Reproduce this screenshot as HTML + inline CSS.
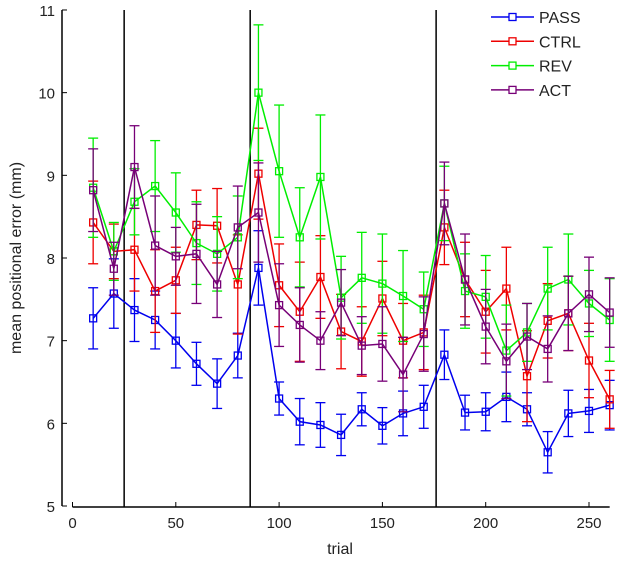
<!DOCTYPE html>
<html><head><meta charset="utf-8"><style>
body{margin:0;background:#fff;}
svg{display:block;font-family:"Liberation Sans",sans-serif;}
</style></head><body>
<svg id="chart" width="617" height="562"></svg>
<script>
const trials=[10,20,30,40,50,60,70,80,90,100,110,120,130,140,150,160,170,180,190,200,210,220,230,240,250,260];
const passMean=[7.27,7.57,7.37,7.25,7.0,6.72,6.48,6.82,7.88,6.3,6.02,5.98,5.86,6.17,5.97,6.12,6.2,6.83,6.13,6.14,6.32,6.17,5.65,6.12,6.15,6.22];
const passErr=[0.37,0.42,0.38,0.35,0.33,0.26,0.3,0.27,0.45,0.2,0.28,0.27,0.25,0.2,0.22,0.27,0.26,0.3,0.21,0.23,0.3,0.2,0.25,0.28,0.26,0.3];
const ctrlMean=[8.43,8.08,8.1,7.6,7.73,8.4,8.39,7.68,9.02,7.67,7.35,7.77,7.11,6.99,7.51,7.0,7.1,8.37,7.74,7.35,7.63,6.57,7.24,7.33,6.76,6.29];
const ctrlErr=[0.5,0.33,0.5,0.5,0.4,0.42,0.45,0.6,0.55,0.5,0.6,0.5,0.45,0.42,0.45,0.45,0.45,0.45,0.45,0.5,0.5,0.55,0.45,0.45,0.45,0.35];
const revMean=[8.85,8.08,8.68,8.87,8.55,8.18,8.05,8.25,10.0,9.05,8.25,8.98,7.52,7.76,7.69,7.54,7.38,8.66,7.6,7.53,6.88,7.1,7.63,7.74,7.45,7.25];
const revErr=[0.6,0.35,0.4,0.55,0.48,0.5,0.45,0.5,0.82,0.8,0.6,0.75,0.5,0.55,0.6,0.55,0.45,0.45,0.45,0.5,0.55,0.35,0.5,0.55,0.4,0.5];
const actMean=[8.82,7.87,9.1,8.15,8.02,8.05,7.68,8.37,8.55,7.43,7.19,7.0,7.46,6.94,6.96,6.59,7.08,8.66,7.74,7.17,6.75,7.05,6.9,7.33,7.56,7.34];
const actErr=[0.5,0.32,0.5,0.6,0.35,0.6,0.4,0.5,0.6,0.5,0.45,0.35,0.4,0.35,0.45,0.45,0.45,0.5,0.55,0.45,0.45,0.4,0.4,0.45,0.45,0.42];
const xTicks=[0,50,100,150,200,250];
const yTicks=[5,6,7,8,9,10,11];
const phaseLines=[25,86,176];
const seriesNames=["PASS","CTRL","REV","ACT"];
const seriesColors=["#0000ee","#ee0000","#00ee00","#770077"];

const NS="http://www.w3.org/2000/svg";
const svg=document.getElementById('chart');
const X=v=>72.5+v*2.066;
const Y=v=>506-(v-5)*82.67;
function mk(tag,attrs,parent){const e=document.createElementNS(NS,tag);for(const k in attrs)e.setAttribute(k,attrs[k]);(parent||svg).appendChild(e);return e;}

// axes
let ya=mk('line',{x1:62,y1:Y(11),x2:62,y2:Y(5),stroke:'#000','stroke-width':1.5});


let xa=mk('line',{x1:X(0),y1:507,x2:X(260),y2:507,stroke:'#000','stroke-width':1.5});


yTicks.forEach(t=>{
  mk('line',{x1:62,y1:Y(t),x2:67,y2:Y(t),stroke:'#000','stroke-width':1});
  let tx=mk('text',{x:55,y:Y(t)+6,'text-anchor':'end','font-size':15,fill:'#222'});
  tx.textContent=t;
  
  
});
xTicks.forEach(t=>{
  mk('line',{x1:X(t),y1:507,x2:X(t),y2:502,stroke:'#000','stroke-width':1});
  let tx=mk('text',{x:X(t),y:528,'text-anchor':'middle','font-size':15,fill:'#222'});
  tx.textContent=t;
  
  
});
let xl=mk('text',{x:340,y:554,'text-anchor':'middle','font-size':16,fill:'#222'});
xl.textContent='trial';


let yl=mk('text',{x:0,y:0,'text-anchor':'middle','font-size':16,fill:'#222',transform:'translate(21,258) rotate(-90)'});
yl.textContent='mean positional error (mm)';



phaseLines.forEach(p=>{
  let l=mk('line',{x1:X(p),y1:Y(11),x2:X(p),y2:507,stroke:'#000','stroke-width':1.5});
  
  
});

const means=[passMean,ctrlMean,revMean,actMean];
const errs=[passErr,ctrlErr,revErr,actErr];
means.forEach((m,si)=>{
  const c=seriesColors[si];
  const g=mk('g',{});
  
  
  trials.forEach((t,i)=>{
    const x=X(t),lo=Y(m[i]-errs[si][i]),hi=Y(m[i]+errs[si][i]);
    mk('line',{x1:x,y1:lo,x2:x,y2:hi,stroke:c,'stroke-width':1.3},g);
    mk('line',{x1:x-5,y1:lo,x2:x+5,y2:lo,stroke:c,'stroke-width':1.3},g);
    mk('line',{x1:x-5,y1:hi,x2:x+5,y2:hi,stroke:c,'stroke-width':1.3},g);
  });
  const pl=mk('polyline',{points:trials.map((t,i)=>X(t)+','+Y(m[i])).join(' '),fill:'none',stroke:c,'stroke-width':1.5},g);
  
  
  trials.forEach((t,i)=>{
    const r=mk('rect',{x:X(t)-3.5,y:Y(m[i])-3.5,width:7,height:7,fill:'none',stroke:c,'stroke-width':1.3},g);
    
    
  });
});

// legend
const lg=mk('g',{});


seriesNames.forEach((n,i)=>{
  const y=17+i*24.3;
  const e=mk('g',{},lg);
  
  
  mk('line',{x1:491,y1:y,x2:534,y2:y,stroke:seriesColors[i],'stroke-width':1.5},e);
  mk('rect',{x:509,y:y-3.5,width:7,height:7,fill:'#fff',stroke:seriesColors[i],'stroke-width':1.3},e);
  const t=mk('text',{x:539,y:y+6,'font-size':16,fill:'#222'},e);
  t.textContent=n;
});
</script>
</body></html>
